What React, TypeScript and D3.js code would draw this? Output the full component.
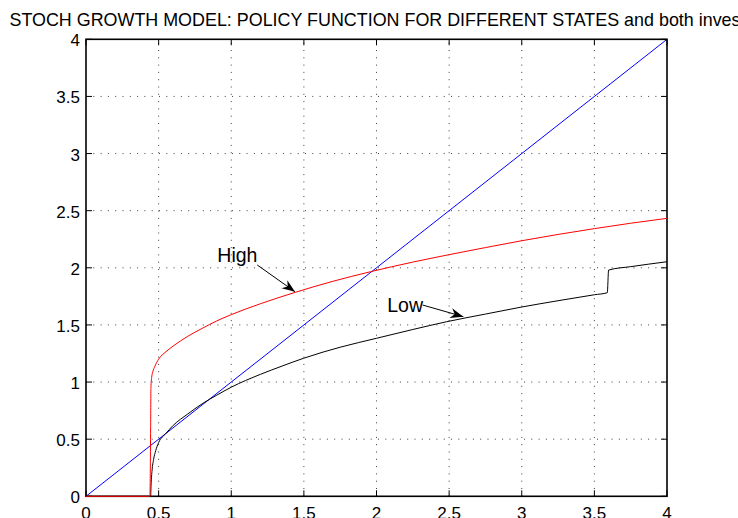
import React from "react";
import * as d3 from "d3";

// Capital grid and policy values for the high productivity state
const kHigh = [0, 0.44, 0.445, 0.447, 0.452, 0.46, 0.475, 0.5, 0.55, 0.6, 0.7, 0.8, 0.9, 1.0, 1.2, 1.44, 1.7, 1.96, 2.25, 2.5, 2.75, 3.0, 3.25, 3.5, 3.75, 4.0];
const policyHigh = [0, 0, 0.6, 0.95, 1.04, 1.09, 1.14, 1.2, 1.265, 1.315, 1.4, 1.47, 1.535, 1.59, 1.685, 1.785, 1.882, 1.966, 2.05, 2.115, 2.177, 2.237, 2.292, 2.343, 2.39, 2.433];

// Capital grid and policy values for the low productivity state
const kLow = [0, 0.445, 0.448, 0.455, 0.465, 0.48, 0.5, 0.55, 0.6, 0.7, 0.8, 0.9, 1.0, 1.2, 1.35, 1.5, 1.75, 2.0, 2.25, 2.483, 2.75, 2.988, 3.25, 3.5, 3.589, 3.598, 3.75, 4.0];
const policyLow = [0, 0, 0.1, 0.23, 0.32, 0.4, 0.47, 0.55, 0.62, 0.72, 0.81, 0.885, 0.955, 1.067, 1.14, 1.209, 1.305, 1.383, 1.46, 1.528, 1.595, 1.654, 1.712, 1.764, 1.782, 1.98, 2.01, 2.053];

// 45-degree line
const diagK = [0, 4];
const diagV = [0, 4];

const tickValues = [0, 0.5, 1, 1.5, 2, 2.5, 3, 3.5, 4];
const tickLabels = ["0", "0.5", "1", "1.5", "2", "2.5", "3", "3.5", "4"];

const titleText = "STOCH GROWTH MODEL: POLICY FUNCTION FOR DIFFERENT STATES and both inves";

// Text annotations with arrows (data coordinates)
const annotLabels = ["High", "Low"];
const annotTextPos = [[0.904, 2.053], [2.074, 1.616]];
const annotArrowFrom = [[1.179, 2.025], [2.318, 1.674]];
const annotArrowTo = [[1.439, 1.79], [2.598, 1.572]];

const W = 738;
const H = 518;
const FONT = "'Liberation Sans', Arial, Helvetica, sans-serif";

export default function App() {
  const x = d3.scaleLinear().domain([0, 4]).range([86, 667]);
  const y = d3.scaleLinear().domain([0, 4]).range([496.3, 39.3]);
  const [x0, x1] = x.range();
  const [y0, y1] = y.range();

  const line = d3
    .line<[number, number]>()
    .x((d) => x(d[0]))
    .y((d) => y(d[1]))
    .curve(d3.curveMonotoneX);
  const straight = d3
    .line<[number, number]>()
    .x((d) => x(d[0]))
    .y((d) => y(d[1]));

  const highPts = kHigh.map((k, i) => [k, policyHigh[i]] as [number, number]);
  const lowPts = kLow.map((k, i) => [k, policyLow[i]] as [number, number]);
  const diagPts = diagK.map((k, i) => [k, diagV[i]] as [number, number]);

  const tickLen = 6;
  const fs = 17;

  const arrowHead = (from: number[], to: number[]) => {
    const fx = x(from[0]);
    const fy = y(from[1]);
    const tx = x(to[0]);
    const ty = y(to[1]);
    const ang = Math.atan2(ty - fy, tx - fx);
    const len = 13;
    const half = 5;
    const indent = 4;
    const ux = Math.cos(ang);
    const uy = Math.sin(ang);
    const px = -uy;
    const py = ux;
    const bx = tx - ux * len;
    const by = ty - uy * len;
    const ix = tx - ux * (len - indent);
    const iy = ty - uy * (len - indent);
    return `M${tx},${ty}L${bx + px * half},${by + py * half}L${ix},${iy}L${bx - px * half},${by - py * half}Z`;
  };

  return (
    <svg
      width={W}
      height={H}
      style={{ position: "absolute", left: 0, top: 0, background: "#fff" }}
      fontFamily={FONT}
    >
      <rect x={0} y={0} width={W} height={H} fill="#fff" />
      {/* dotted grid */}
      <g stroke="#000" strokeWidth={1} strokeDasharray="1,6.3" opacity={0.75}>
        {tickValues.slice(1, -1).map((t) => (
          <line key={"gv" + t} x1={x(t)} x2={x(t)} y1={y0} y2={y1} />
        ))}
        {tickValues.slice(1, -1).map((t) => (
          <line key={"gh" + t} x1={x0} x2={x1} y1={y(t)} y2={y(t)} />
        ))}
      </g>

      {/* data */}
      <path d={straight(diagPts) ?? ""} fill="none" stroke="#0000ff" strokeWidth={1} />
      <path d={line(lowPts) ?? ""} fill="none" stroke="#000" strokeWidth={1} />

      {/* frame and ticks */}
      <g stroke="#000" strokeWidth={1.6} fill="none">
        <rect x={x0} y={y1} width={x1 - x0} height={y0 - y1} />
        {tickValues.map((t) => (
          <g key={"t" + t}>
            <line x1={x(t)} x2={x(t)} y1={y0} y2={y0 - tickLen} strokeWidth={1} />
            <line x1={x(t)} x2={x(t)} y1={y1} y2={y1 + tickLen} strokeWidth={1} />
            <line x1={x0} x2={x0 + tickLen} y1={y(t)} y2={y(t)} strokeWidth={1} />
            <line x1={x1} x2={x1 - tickLen} y1={y(t)} y2={y(t)} strokeWidth={1} />
          </g>
        ))}
      </g>

      <path d={line(highPts) ?? ""} fill="none" stroke="#ff0000" strokeWidth={1} />

      {/* tick labels */}
      <g fontSize={fs} fill="#000">
        {tickValues.map((t, i) => (
          <text key={"yl" + t} x={x0 - 6} y={y(t) + 7} textAnchor="end">
            {tickLabels[i]}
          </text>
        ))}
        {tickValues.map((t, i) => (
          <text key={"xl" + t} x={x(t)} y={y0 + 23} textAnchor="middle">
            {tickLabels[i]}
          </text>
        ))}
      </g>

      {/* annotations */}
      {annotLabels.map((lab, i) => (
        <g key={lab}>
          <text x={x(annotTextPos[i][0])} y={y(annotTextPos[i][1])} fontSize={19.5} fill="#000">
            {lab}
          </text>
          <line
            x1={x(annotArrowFrom[i][0])}
            y1={y(annotArrowFrom[i][1])}
            x2={x(annotArrowTo[i][0])}
            y2={y(annotArrowTo[i][1])}
            stroke="#000"
            strokeWidth={1}
          />
          <path d={arrowHead(annotArrowFrom[i], annotArrowTo[i])} fill="#000" />
        </g>
      ))}

      {/* title */}
      <text x={9.5} y={26} fontSize={17.9} fill="#000">
        {titleText}
      </text>
    </svg>
  );
}
